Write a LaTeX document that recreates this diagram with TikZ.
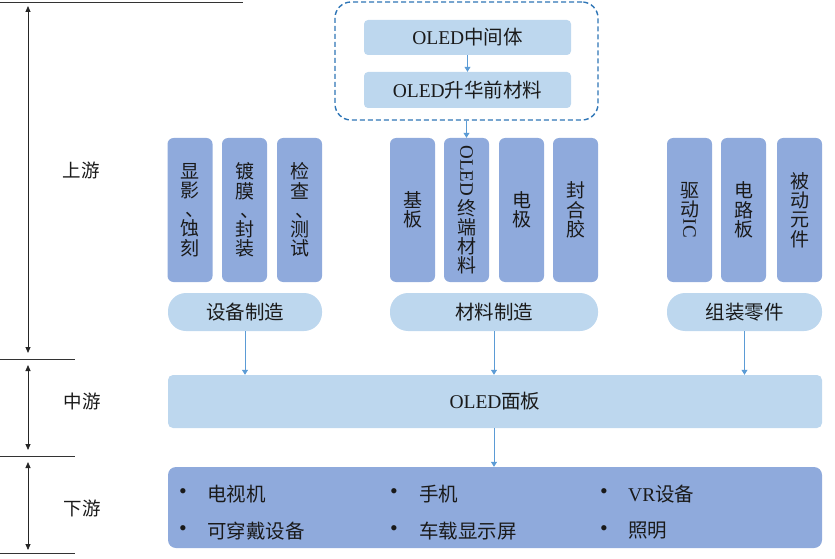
\documentclass[tikz,border=0pt]{standalone}
\usepackage{fontspec}
\setmainfont{Liberation Serif}
\newfontfamily\cjk{Noto Sans CJK SC}
\usetikzlibrary{arrows.meta}
\definecolor{lightb}{HTML}{BDD7EE}
\definecolor{medb}{HTML}{8FAADC}
\definecolor{arrb}{HTML}{5B9BD5}
\definecolor{dashb}{HTML}{2E75B6}
\definecolor{txt}{HTML}{1A1A1A}
\newcommand\latn[1]{{\rmfamily #1}}
\newcommand\vlat[1]{\raisebox{\depth}{\rotatebox{-90}{\rmfamily #1}}}
\newcommand\dun{\hspace*{10pt}、}
\begin{document}
\begin{tikzpicture}[x=1pt,y=-1pt,
  base/.style={font=\cjk\fontsize{19.5}{19.5}\selectfont, text=txt, inner sep=0pt},
  colbox/.style={base, fill=medb, rounded corners=6pt, minimum width=45pt, minimum height=144pt, align=center, font=\cjk\fontsize{19}{19.2}\selectfont},
  pill/.style={base, fill=lightb, rounded corners=18pt, minimum height=38pt},
  lbox/.style={base, fill=lightb, rounded corners=4pt, minimum width=207pt},
  dashbox/.style={draw=dashb, line width=1.4pt, dash pattern=on 5pt off 3pt, rounded corners=16pt, minimum width=263pt, minimum height=118pt},
  arr/.style={draw=arrb, line width=0.8pt, -{Triangle[width=6pt,length=5pt]}},
  dim/.style={draw=black!85, line width=0.8pt, {Triangle[width=5pt,length=6pt]}-{Triangle[width=5pt,length=6pt]}},
  sep/.style={draw=black!80, line width=0.8pt},
  stage/.style={base, font=\cjk\fontsize{18.5}{18.5}\selectfont},
  item/.style={base, anchor=west},
  bul/.style={base, anchor=center, font=\rmfamily\fontsize{22}{22}\selectfont}
]
\useasboundingbox (0,0) rectangle (835,559);

% left separators
\draw[sep] (0,2) -- (243,2);
\draw[sep] (0,359) -- (75,359);
\draw[sep] (0,456) -- (75,456);
\draw[sep] (0,553) -- (75,553);

\coordinate (u1) at (28,6);   \coordinate (u2) at (28,353);
\coordinate (c1) at (28,365); \coordinate (c2) at (28,450);
\coordinate (d1) at (28,462); \coordinate (d2) at (28,550);
\draw[dim] (u1) -- (u2);
\draw[dim] (c1) -- (c2);
\draw[dim] (d1) -- (d2);

\node[stage] (sUp) at (81,170) {上游};
\node[stage] (sMid) at (82,401) {中游};
\node[stage] (sDown) at (82,508) {下游};

% top dashed group
\node[dashbox] (dbox) at (466.5,61) {};
\node[lbox, minimum height=35pt] (m1) at (467.5,37.5) {\latn{OLED}中间体};
\node[lbox, minimum height=36pt] (m2) at (467.5,90) {\latn{OLED}升华前材料};
\draw[arr] (m1) -- (m2);

% columns group 1
\node[colbox] (a1) at (190,210) {显\\影\\\dun\\蚀\\刻};
\node[colbox] (a2) at (244.5,210) {镀\\膜\\\dun\\封\\装};
\node[colbox] (a3) at (299.5,210) {检\\查\\\dun\\测\\试};
% group 2
\node[colbox] (b1) at (412.5,210) {基\\板};
\node[colbox] (b2) at (466.5,210) {\vlat{OLED}\\终\\端\\材\\料};
\node[colbox] (b3) at (521.5,210) {电\\极};
\node[colbox] (b4) at (575.5,210) {封\\合\\胶};
% group 3
\node[colbox] (c1b) at (689.5,210) {驱\\动\\\vlat{IC}};
\node[colbox] (c2b) at (743.5,210) {电\\路\\板};
\node[colbox] (c3b) at (799.5,210) {被\\动\\元\\件};

\draw[arr] (dbox.south) -- (b2.north);

% pills
\node[pill, minimum width=154pt] (p1) at (245,312) {设备制造};
\node[pill, minimum width=208pt] (p2) at (494,312) {材料制造};
\node[pill, minimum width=155pt] (p3) at (744.5,312) {组装零件};

% panel
\node[base, fill=lightb, rounded corners=5pt, minimum width=654pt, minimum height=53pt] (panel) at (495,401.5) {\latn{OLED}面板};
\draw[arr] (p1.south) -- (p1.south |- panel.north);
\draw[arr] (p2.south) -- (p2.south |- panel.north);
\draw[arr] (p3.south) -- (p3.south |- panel.north);

% downstream box
\node[base, fill=medb, rounded corners=8pt, minimum width=654pt, minimum height=81pt] (down) at (495,507.5) {};
\draw[arr] (panel.south -| p2.south) -- (down.north -| p2.south);

\node[bul] (k1) at (183,494) {•};
\node[item] (t1) at (207,494) {电视机};
\node[bul] (k2) at (394,494) {•};
\node[item] (t2) at (419,494) {手机};
\node[bul] (k3) at (604,494) {•};
\node[item] (t3) at (628,494) {\latn{VR}设备};
\node[bul] (k4) at (183,531) {•};
\node[item] (t4) at (207,531) {可穿戴设备};
\node[bul] (k5) at (394,531) {•};
\node[item] (t5) at (419,531) {车载显示屏};
\node[bul] (k6) at (604,531) {•};
\node[item] (t6) at (628,531) {照明};
\end{tikzpicture}
\end{document}
